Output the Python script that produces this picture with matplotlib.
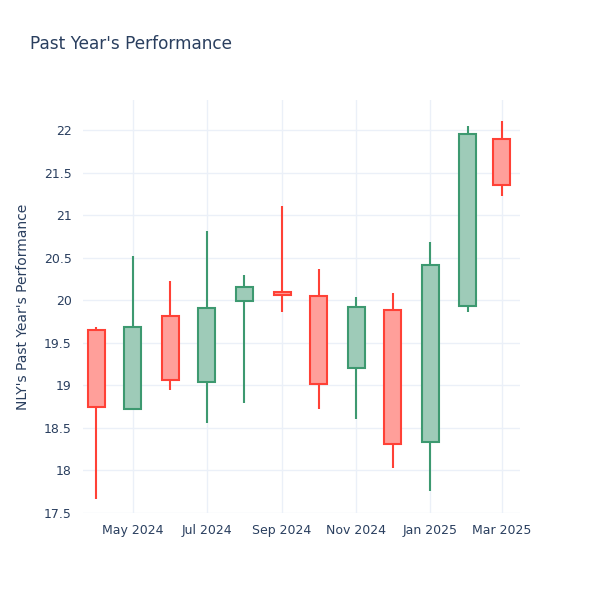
import pandas as pd
import numpy as np
import matplotlib
matplotlib.use("Agg")
import matplotlib.pyplot as plt
import matplotlib.dates as mdates

months = pd.date_range("2024-04-01", periods=12, freq="MS")
opens = [19.65, 18.72, 19.82, 19.04, 19.99, 20.10, 20.05, 19.20, 19.88, 18.34, 19.93, 21.90]
closes = [18.75, 19.69, 19.06, 19.91, 20.15, 20.06, 19.01, 19.92, 18.31, 20.41, 21.95, 21.35]
highs = [19.68, 20.52, 20.23, 20.81, 20.30, 21.11, 20.37, 20.04, 20.09, 20.68, 22.05, 22.11]
lows = [17.67, 18.72, 18.94, 18.56, 18.79, 19.86, 18.72, 18.61, 18.03, 17.76, 19.86, 21.23]

inc_line, inc_fill = "#3D9970", "#9ecbb8"
dec_line, dec_fill = "#FF4136", "#ff9f9a"
text_color = "#2a3f5f"
grid_color = "#ebf0f8"

fig = plt.figure(figsize=(6, 6), dpi=100)
ax = fig.add_axes([0.138, 0.145, 0.729, 0.688])

x = mdates.date2num(months)
for xi, o, c, h, l in zip(x, opens, closes, highs, lows):
    up = c >= o
    line = inc_line if up else dec_line
    fill = inc_fill if up else dec_fill
    ax.vlines(xi, l, h, color=line, linewidth=1.5, zorder=2)
    ax.bar(xi, c - o, bottom=o, width=14, facecolor=fill, edgecolor=line,
           linewidth=1.5, zorder=3)

ax.set_xlim(mdates.date2num(pd.Timestamp("2024-03-21")),
            mdates.date2num(pd.Timestamp("2025-03-16")))
ax.set_ylim(17.5, 22.35)

yticks = np.arange(17.5, 22.01, 0.5)
ax.set_yticks(yticks)
ax.set_yticklabels([f"{v:g}" for v in yticks])
xticks = pd.to_datetime(["2024-05-01", "2024-07-01", "2024-09-01",
                         "2024-11-01", "2025-01-01", "2025-03-01"])
ax.set_xticks(mdates.date2num(xticks))
ax.set_xticklabels([d.strftime("%b %Y") for d in xticks])

ax.grid(True, color=grid_color, linewidth=1)
ax.set_axisbelow(True)
for s in ax.spines.values():
    s.set_visible(False)
ax.tick_params(length=0, colors=text_color, labelsize=9, pad=8)

ax.set_ylabel("NLY's Past Year's Performance", color=text_color, fontsize=10,
              labelpad=10)
fig.text(0.05, 0.926, "Past Year's Performance", color=text_color, fontsize=12.2,
         va="center")

fig.savefig("out.png", dpi=100)
